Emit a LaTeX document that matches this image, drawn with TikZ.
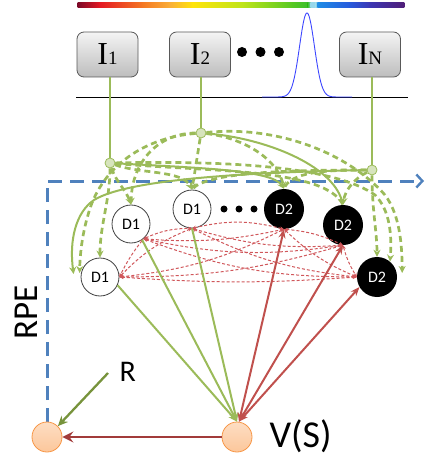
\documentclass[tikz,border=0pt]{standalone}
\usepackage{fontspec}
\setmainfont{Carlito}
\newfontfamily\tnr{Liberation Serif}
\usetikzlibrary{arrows.meta,calc}

\definecolor{lgreen}{HTML}{9BBB59}
\definecolor{jfill}{HTML}{D7E4BD}
\definecolor{dgreen}{HTML}{77933C}
\definecolor{rpeblue}{HTML}{4F81BD}
\definecolor{redline}{HTML}{C0504D}
\definecolor{reddash}{HTML}{D0575B}
\definecolor{darkred}{HTML}{A23B3A}
\definecolor{peach}{HTML}{FCC79B}
\definecolor{peachedge}{HTML}{F79646}
\definecolor{boxtop}{HTML}{F4F4F4}
\definecolor{boxbot}{HTML}{BDBDBD}
\definecolor{gaussblue}{HTML}{3C46FF}
% spectrum stops
\definecolor{sp0}{RGB}{125,10,40}
\definecolor{sp1}{RGB}{228,25,35}
\definecolor{sp2}{RGB}{245,120,35}
\definecolor{sp3}{RGB}{250,175,55}
\definecolor{sp4}{RGB}{255,228,10}
\definecolor{sp5}{RGB}{190,228,25}
\definecolor{sp6}{RGB}{85,200,35}
\definecolor{sp7}{RGB}{60,190,45}
\definecolor{sp8}{RGB}{150,215,235}
\definecolor{sp9}{RGB}{30,140,230}
\definecolor{sp10}{RGB}{40,90,220}
\definecolor{sp11}{RGB}{60,55,180}
\definecolor{sp12}{RGB}{80,30,120}

\begin{document}
\begin{tikzpicture}[x=1pt,y=-1pt,
  ibox/.style={draw=black!65, line width=0.8pt, rounded corners=7pt,
    top color=boxtop, bottom color=boxbot, minimum width=61pt, minimum height=45pt,
    inner sep=0pt},
  junc/.style={circle, draw=lgreen, fill=jfill, line width=0.8pt, minimum size=10pt, inner sep=0pt},
  dwhite/.style={circle, draw=black!75, fill=white, line width=0.8pt, minimum size=38pt,
    inner sep=0pt, font=\fontsize{16}{16}\selectfont},
  dblack/.style={circle, fill=black, minimum size=40pt, inner sep=0pt,
    text=white, font=\fontsize{16}{16}\selectfont},
  orb/.style={circle, draw=peachedge, line width=0.8pt, top color=peach!60, bottom color=peach,
    minimum size=30pt, inner sep=0pt},
  gsolid/.style={draw=lgreen, line width=2pt},
  gdash/.style={draw=lgreen, line width=2.7pt, dash pattern=on 6pt off 4pt},
  gtip/.style={-{Stealth[length=7pt,width=7pt]}},
  rdash/.style={draw=reddash, line width=1pt, dash pattern=on 3pt off 2pt,
    {Stealth[length=4pt,width=3.5pt]}-{Stealth[length=4pt,width=3.5pt]}},
  gfeed/.style={draw=lgreen, line width=2pt, -{Stealth[length=9pt,width=7pt]}},
  rfeed/.style={draw=redline, line width=2pt,
    {Stealth[length=9pt,width=7pt]}-{Stealth[length=9pt,width=7pt]}},
  bigdot/.style={circle, fill=black, minimum size=10pt, inner sep=0pt},
  smalldot/.style={circle, fill=black, minimum size=7pt, inner sep=0pt}
]
\useasboundingbox (0,0) rectangle (426,457);

% colour spectrum bar
\foreach \xa/\xb/\ca/\cb in {78/100/sp0/sp1, 100/143/sp1/sp2, 143/170/sp2/sp3,
    170/193/sp3/sp4, 193/243/sp4/sp5, 243/293/sp5/sp6, 293/308/sp6/sp7,
    308/311/sp7/sp8, 311/316/sp8/sp8, 316/318/sp8/sp9, 318/350/sp9/sp10,
    350/370/sp10/sp11, 370/404/sp11/sp12}
  \fill[left color=\ca, right color=\cb] (\xa-0.3,3) rectangle (\xb+0.3,7.5);

% axis and tuning curve
\draw[line width=1.6pt] (76,97.5) -- (408,97.5);
\draw[gaussblue, line width=0.9pt] plot[domain=262:352, samples=120]
  (\x, {97-84*exp(-((\x-307)/7.4)^2/2)});

% input units
\node[ibox] (i1) at (107.5,54.5) {\tnr\fontsize{32}{32}\selectfont I\fontsize{19}{19}\selectfont 1};
\node[ibox] (i2) at (200,54.5) {\tnr\fontsize{32}{32}\selectfont I\fontsize{19}{19}\selectfont 2};
\node[ibox] (in) at (370,54.5) {\tnr\fontsize{32}{32}\selectfont I\fontsize{19}{19}\selectfont N};
\node[bigdot] (dt1) at (242,52) {};
\node[bigdot] (dt2) at (260.5,52) {};
\node[bigdot] (dt3) at (279,52) {};

% branching points
\node[junc] (j1) at (110,163) {};
\node[junc] (j2) at (201,133) {};
\node[junc] (jn) at (372,170) {};
\draw[gsolid] (i1.south -| j1) -- (j1);
\draw[gsolid] (i2.south -| j2) -- (j2);
\draw[gsolid] (in.south -| jn) -- (jn);

% RPE frame
\draw[rpeblue, line width=3pt, dash pattern=on 14pt off 8pt,
  -{Straight Barb[length=6pt,width=13pt,line width=2.4pt]}]
  (47,422) -- (47,181) -- (424,181);
\node[rotate=90, anchor=base west, font=\fontsize{35}{35}\selectfont] (rpe) at (37,343) {RPE};

% D nodes
\node[dwhite] (d1a) at (131,224) {D1};
\node[dwhite] (d1b) at (192,209) {D1};
\node[dblack] (d2c) at (284,209) {D2};
\node[dblack] (d2d) at (343,225) {D2};
\node[dwhite] (d1e) at (100,277) {D1};
\node[dblack] (d2f) at (377,277) {D2};
\node[smalldot] (dd1) at (224,209) {};
\node[smalldot] (dd2) at (239,209) {};
\node[smalldot] (dd3) at (254,209) {};

% arrow ends beside the outer nodes
\coordinate (d1ea) at ($(d1e.west)+(-7,-3)$);
\coordinate (d1eb) at ($(d1e.west)+(-1,-4)$);
\coordinate (d2fa) at (d2f.50);
\coordinate (d2fb) at ($(d2f.east)+(5,-4)$);

% projections from the input units
\draw[gdash,gtip] (j1) .. controls (116,182) and (126,190) .. (d1a.north);
\draw[gdash,gtip] (j2) .. controls (160,133) and (132,160) .. (d1a.north);
\draw[gdash,gtip] (j1) .. controls (110,200) and (100,225) .. (d1e.north);
\draw[gdash,gtip] (j2) -- (d1b.north);
\draw[gdash,gtip] (j1) .. controls (140,174) and (182,170) .. (d1b.north);
\draw[gsolid,gtip] (j1) .. controls (200,168) and (272,170) .. (d2c.north);
\draw[gdash,gtip] (j2) .. controls (245,138) and (278,160) .. (d2c.north);
\draw[gsolid,gtip] (j2) .. controls (265,138) and (332,165) .. (d2d.north);
\draw[gdash] (j1) .. controls (210,172) and (325,168) .. (d2d.north);
\draw[gdash,gtip] (jn) .. controls (355,178) and (345,190) .. (d2d.north);
\draw[gdash] (jn) .. controls (325,170) and (290,172) .. (d2c.north);
\draw[gdash] (jn) .. controls (290,170) and (205,172) .. (d1b.north);
\draw[gdash,gtip] (jn) .. controls (372,210) and (377,232) .. (d2f.north);
\draw[gdash,gtip] (j1) .. controls (250,160) and (340,170) .. (375,195)
  .. controls (390,210) and (392,235) .. (d2fa);
\draw[gdash,gtip] (j2) .. controls (280,125) and (350,155) .. (385,195)
  .. controls (400,215) and (402,245) .. (d2fb);
\draw[gsolid,gtip] (jn) .. controls (260,172) and (130,178) .. (94,200)
  .. controls (76,212) and (69,240) .. (d1ea);
\draw[gdash,gtip] (j2) .. controls (140,138) and (100,170) .. (88,215)
  .. controls (82,235) and (80,255) .. (d1eb);

% value and reward
\node[orb] (lft) at (47,437) {};
\node[orb] (vs) at (237,437) {};
\node[anchor=base west, font=\fontsize{38}{38}\selectfont] (vlab) at (266,447) {V(S)};
\node[anchor=base west, font=\fontsize{30}{30}\selectfont] (rlab) at (116,381) {R};
\coordinate (rtail) at (108,373);

% lateral connections between D units
\coordinate (pa) at (d1a.-50);
\coordinate (pb) at (d1b.south);
\coordinate (pc) at (d2c.south);
\coordinate (pd) at (d2d.south);
\coordinate (pe) at (d1e.east);
\coordinate (pf) at (d2f.west);
\draw[rdash] (pa) to[bend left=12] (pb);
\draw[rdash] (pa) to[bend right=8] (pc);
\draw[rdash] (pa) to[bend right=10] (pd);
\draw[rdash] (pa) to[bend right=6] (pe);
\draw[rdash] (pa) to[bend right=10] (pf);
\draw[rdash] (pb) to[bend left=14] (pc);
\draw[rdash] (pb) to[bend right=10] (pd);
\draw[rdash] (pb) to[bend right=12] (pe);
\draw[rdash] (pb) to[bend right=10] (pf);
\draw[rdash] (pc) to[bend left=10] (pd);
\draw[rdash] (pc) to[bend left=10] (pe);
\draw[rdash] (pc) to[bend right=10] (pf);
\draw[rdash] (pd) to[bend left=8] (pe);
\draw[rdash] (pd) to[bend right=8] (pf);
\draw[rdash] (pe) to[bend right=4] (pf);

% D units to value
\draw[gfeed] (d1e.-25) -- (vs.north);
\draw[gfeed] (d1a.-55) -- (vs.north);
\draw[gfeed] (d1b.south) -- (vs.north);
\draw[rfeed] ($(vs.north)+(2,0)$) -- (d2c.south);
\draw[rfeed] ($(vs.north)+(2,0)$) -- (d2d.south);
\draw[rfeed] ($(vs.north)+(2,0)$) -- (d2f.-150);

\draw[darkred, line width=2.6pt, -{Stealth[length=11pt,width=11pt,inset=4pt]}] (vs) -- (lft);
\draw[dgreen, line width=2.3pt, -{Stealth[length=10pt,width=9pt]}] (rtail) -- (lft.45);
\end{tikzpicture}
\end{document}
